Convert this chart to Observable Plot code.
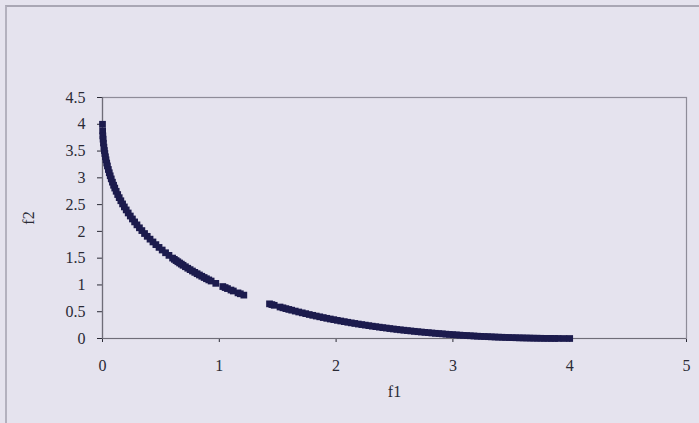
<!DOCTYPE html>
<html>
<head>
<meta charset="utf-8">
<script src="https://cdn.jsdelivr.net/npm/d3@7"></script>
<script src="https://cdn.jsdelivr.net/npm/@observablehq/plot@0.6"></script>
<style>
  html, body { margin: 0; padding: 0; background: #e5e3ee; }
  #wrap { position: relative; width: 699px; height: 423px; overflow: hidden; }
  #border { position: absolute; left: 5px; top: 5px; width: 720px; height: 440px;
            border-top: 2px solid #a9a7b4; border-left: 2px solid #b3b1be; pointer-events: none; }
  svg { display: block; }
</style>
</head>
<body>
<div id="wrap"><div id="border"></div></div>
<script>
const f1 = [
  0, 0.001, 0.003, 0.005, 0.008, 0.012, 0.016, 0.02, 0.025, 0.03, 0.036, 0.042, 0.05, 0.058, 0.066,
  0.075, 0.085, 0.095, 0.105, 0.117, 0.13, 0.143, 0.157, 0.172, 0.187, 0.203, 0.22, 0.238, 0.256,
  0.275, 0.295, 0.316, 0.337, 0.36, 0.383, 0.407, 0.432, 0.457, 0.484, 0.511, 0.54, 0.569, 0.6,
  0.63, 0.66, 0.69, 0.73, 0.77, 0.81, 0.85, 0.89, 0.93, 0.97, 1.03, 1.07, 1.12, 1.16, 1.21,
  1.43, 1.47, 1.52, 1.57, 1.62, 1.68, 1.74, 1.80, 1.86, 1.92, 1.98, 2.04, 2.10, 2.16, 2.22, 2.28,
  2.34, 2.40, 2.46, 2.52, 2.58, 2.64, 2.70, 2.76, 2.82, 2.88, 2.94, 3.00, 3.06, 3.12, 3.18, 3.24,
  3.30, 3.36, 3.42, 3.48, 3.54, 3.60, 3.66, 3.72, 3.78, 3.84, 3.90, 3.95, 4.00,
  0.615, 0.645, 0.675, 0.71, 0.75, 0.79, 0.83, 0.87, 0.91, 1.05, 1.10, 1.18,
  1.45, 1.545, 1.595, 1.65, 1.71, 1.77, 1.83, 1.89, 1.95, 2.01, 2.07, 2.13, 2.19, 2.25, 2.31,
  2.37, 2.43, 2.49, 2.55, 2.61, 2.67, 2.73, 2.79, 2.85, 2.91, 2.97, 3.03, 3.09, 3.15, 3.21,
  3.27, 3.33, 3.39, 3.45, 3.51, 3.57, 3.63, 3.69, 3.75, 3.81, 3.87
];
const f2 = [
  4.00, 3.875, 3.784, 3.722, 3.650, 3.574, 3.510, 3.454, 3.393, 3.337, 3.277, 3.222, 3.156, 3.095, 3.038,
  2.980, 2.919, 2.862, 2.809, 2.749, 2.688, 2.630, 2.572, 2.513, 2.457, 2.401, 2.344, 2.287, 2.232,
  2.177, 2.122, 2.067, 2.015, 1.960, 1.908, 1.855, 1.803, 1.753, 1.701, 1.652, 1.601, 1.552, 1.502,
  1.455, 1.410, 1.367, 1.312, 1.260, 1.210, 1.162, 1.116, 1.073, 1.030, 0.970, 0.932, 0.887, 0.852, 0.810,
  0.647, 0.620, 0.588, 0.558, 0.529, 0.495, 0.464, 0.433, 0.405, 0.377, 0.352, 0.327, 0.303, 0.281, 0.260, 0.240,
  0.221, 0.203, 0.186, 0.170, 0.155, 0.141, 0.127, 0.115, 0.103, 0.092, 0.081, 0.072, 0.063, 0.055, 0.047, 0.040,
  0.034, 0.028, 0.023, 0.018, 0.014, 0.011, 0.008, 0.005, 0.003, 0.002, 0.001, 0.000, 0.000,
  1.478, 1.433, 1.389, 1.340, 1.286, 1.235, 1.186, 1.139, 1.094, 0.951, 0.905, 0.835,
  0.633, 0.573, 0.543, 0.512, 0.479, 0.448, 0.419, 0.391, 0.364, 0.339, 0.315, 0.292, 0.270, 0.250, 0.230,
  0.212, 0.195, 0.178, 0.162, 0.148, 0.134, 0.121, 0.109, 0.097, 0.087, 0.076, 0.067, 0.059, 0.051, 0.043,
  0.037, 0.031, 0.025, 0.020, 0.016, 0.012, 0.009, 0.006, 0.004, 0.002, 0.001
];
const xTicks = [0, 1, 2, 3, 4, 5];
const yTicks = [0, 0.5, 1, 1.5, 2, 2.5, 3, 3.5, 4, 4.5];

const data = f1.map((v, i) => ({f1: v, f2: f2[i]}));

const chart = Plot.plot({
  width: 699,
  height: 423,
  marginLeft: 102,
  marginRight: 13,
  marginTop: 97,
  marginBottom: 85,
  style: {background: "transparent", fontFamily: "'Liberation Serif', 'DejaVu Serif', serif", fontSize: "16px", color: "#2a2a35"},
  x: {domain: [0, 5], ticks: xTicks, tickFormat: d => String(d), tickSize: 4, tickPadding: 17, label: "f1", labelAnchor: "center", labelArrow: "none", labelOffset: 58},
  y: {domain: [0, 4.5], ticks: yTicks, tickFormat: d => String(d), tickSize: 5, tickPadding: 12, label: "f2", labelAnchor: "center", labelArrow: "none", labelOffset: 80},
  marks: [
    Plot.frame({stroke: "#8e8c98", strokeWidth: 1.2}),
    Plot.ruleX([0], {stroke: "#6f6d78", strokeWidth: 1.2}),
    Plot.ruleY([0], {stroke: "#6f6d78", strokeWidth: 1.2}),
    Plot.dot(data, {x: "f1", y: "f2", symbol: "square", r: 3.8, fill: "#1c1b4d", stroke: "none"})
  ]
});
document.getElementById("wrap").prepend(chart);
</script>
</body>
</html>
